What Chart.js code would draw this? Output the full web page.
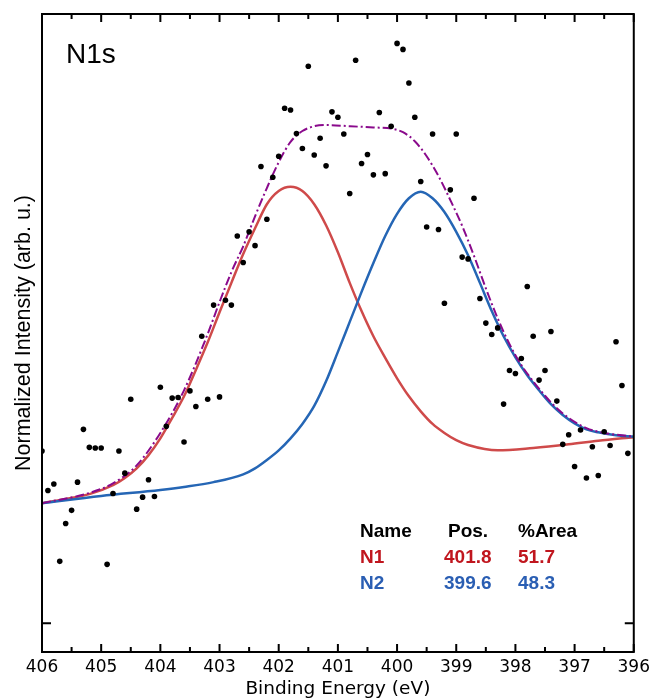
<!DOCTYPE html>
<html>
<head>
<meta charset="utf-8">
<script src="https://cdn.jsdelivr.net/npm/chart.js@4.4.0/dist/chart.umd.min.js"></script>
<style>
    html, body { margin: 0; padding: 0; background: #fff; }
    #wrap { width: 655px; height: 700px; }
</style>
</head>
<body>
<div id="wrap"><canvas id="chart-n1s" width="655" height="700"></canvas></div>
<script>
// N1s XPS spectrum: raw points, two fitted components and the envelope

const dataEnergy = [
    406.0, 405.9, 405.8, 405.7, 405.6, 405.5, 405.4, 405.3, 405.2, 405.1,
    405.0, 404.9, 404.8, 404.7, 404.6, 404.5, 404.4, 404.3, 404.2, 404.1,
    404.0, 403.9, 403.8, 403.7, 403.6, 403.5, 403.4, 403.3, 403.2, 403.1,
    403.0, 402.9, 402.8, 402.7, 402.6, 402.5, 402.4, 402.3, 402.2, 402.1,
    402.0, 401.9, 401.8, 401.7, 401.6, 401.5, 401.4, 401.3, 401.2, 401.1,
    401.0, 400.9, 400.8, 400.7, 400.6, 400.5, 400.4, 400.3, 400.2, 400.1,
    400.0, 399.9, 399.8, 399.7, 399.6, 399.5, 399.4, 399.3, 399.2, 399.1,
    399.0, 398.9, 398.8, 398.7, 398.6, 398.5, 398.4, 398.3, 398.2, 398.1,
    398.0, 397.9, 397.8, 397.7, 397.6, 397.5, 397.4, 397.3, 397.2, 397.1,
    397.0, 396.9, 396.8, 396.7, 396.6, 396.5, 396.4, 396.3, 396.2, 396.1
];
const dataIntensity = [
    0.287, 0.221, 0.232, 0.103, 0.166, 0.188, 0.235, 0.323, 0.293, 0.292,
    0.292, 0.098, 0.216, 0.287, 0.250, 0.373, 0.190, 0.210, 0.239, 0.211,
    0.393, 0.328, 0.375, 0.376, 0.302, 0.387, 0.361, 0.478, 0.373, 0.530,
    0.377, 0.538, 0.530, 0.645, 0.601, 0.652, 0.629, 0.761, 0.673, 0.743,
    0.778, 0.858, 0.855, 0.816, 0.791, 0.928, 0.780, 0.808, 0.762, 0.852,
    0.843, 0.815, 0.716, 0.938, 0.766, 0.781, 0.747, 0.851, 0.749, 0.828,
    0.966, 0.956, 0.900, 0.843, 0.736, 0.660, 0.815, 0.656, 0.533, 0.722,
    0.815, 0.610, 0.607, 0.708, 0.541, 0.500, 0.481, 0.492, 0.365, 0.421,
    0.416, 0.441, 0.561, 0.478, 0.405, 0.421, 0.486, 0.370, 0.298, 0.314,
    0.261, 0.322, 0.242, 0.294, 0.246, 0.319, 0.296, 0.469, 0.396, 0.283
];

const n1Energy = [406.0, 405.6, 405.2, 404.8, 404.6, 404.4, 404.2, 404.0, 403.8, 403.6,
    403.4, 403.2, 403.0, 402.8, 402.6, 402.4, 402.2, 402.0, 401.8, 401.6,
    401.4, 401.2, 401.0, 400.8, 400.6, 400.4, 400.2, 400.0, 399.8, 399.6,
    399.4, 399.2, 399.0, 398.8, 398.3, 397.7, 397.1, 396.6, 396.0];
const n1Fit = [0.200, 0.207, 0.215, 0.230, 0.242, 0.258, 0.280, 0.308, 0.342, 0.378,
    0.422, 0.468, 0.518, 0.567, 0.615, 0.658, 0.698, 0.720, 0.727, 0.720,
    0.698, 0.663, 0.618, 0.567, 0.520, 0.478, 0.442, 0.408, 0.378, 0.353,
    0.332, 0.317, 0.305, 0.297, 0.288, 0.292, 0.298, 0.304, 0.310];

const n2Energy = [406.0, 405.0, 404.0, 403.6, 403.1, 402.6, 402.4, 402.2, 402.0, 401.8,
    401.6, 401.4, 401.2, 401.0, 400.8, 400.6, 400.4, 400.2, 400.0, 399.8,
    399.6, 399.4, 399.2, 399.0, 398.8, 398.6, 398.4, 398.2, 398.0, 397.8,
    397.6, 397.4, 397.2, 397.0, 396.8, 396.6, 396.3, 396.0];
const n2Fit = [0.200, 0.212, 0.222, 0.227, 0.235, 0.248, 0.258, 0.272, 0.288, 0.308,
    0.332, 0.362, 0.403, 0.452, 0.502, 0.552, 0.600, 0.645, 0.682, 0.708,
    0.719, 0.708, 0.685, 0.652, 0.613, 0.567, 0.520, 0.478, 0.443, 0.413,
    0.388, 0.365, 0.347, 0.333, 0.323, 0.318, 0.313, 0.311];

const envEnergy = [406.0, 405.2, 404.8, 404.4, 404.0, 403.6, 403.2, 403.0, 402.8, 402.6,
    402.4, 402.2, 402.0, 401.8, 401.6, 401.4, 401.2, 400.8, 400.4, 400.1,
    399.9, 399.7, 399.5, 399.3, 399.1, 398.9, 398.7, 398.5, 398.3, 398.1,
    397.9, 397.7, 397.5, 397.3, 397.1, 396.8, 396.5, 396.0];
const envFit = [0.200, 0.217, 0.233, 0.263, 0.317, 0.388, 0.482, 0.535, 0.585, 0.628,
    0.678, 0.725, 0.768, 0.802, 0.820, 0.828, 0.830, 0.828, 0.826, 0.824,
    0.818, 0.803, 0.778, 0.745, 0.705, 0.662, 0.612, 0.558, 0.508, 0.465,
    0.430, 0.403, 0.379, 0.358, 0.342, 0.325, 0.317, 0.311];

const fitNames = ["N1", "N2"];
const fitPos = ["401.8", "399.6"];
const fitArea = ["51.7", "48.3"];
const fitColors = ["#c0161e", "#2a5eb3"];

function pairs(xs, ys) {
    return xs.map((v, i) => ({ x: v, y: ys[i] }));
}

// frame with inward ticks on all four sides
const frameTicks = {
    id: 'frameTicks',
    afterDatasetsDraw(chart) {
        const { ctx, chartArea: a, scales: { x, y } } = chart;
        ctx.save();
        ctx.strokeStyle = '#000';
        ctx.lineWidth = 2;
        ctx.beginPath();
        const ticks = x.ticks;
        for (let i = 0; i < ticks.length; i++) {
            const px = x.getPixelForValue(ticks[i].value);
            ctx.moveTo(px, a.bottom); ctx.lineTo(px, a.bottom - 8);
            ctx.moveTo(px, a.top); ctx.lineTo(px, a.top + 8);
            if (i < ticks.length - 1) {
                const pm = x.getPixelForValue((ticks[i].value + ticks[i + 1].value) / 2);
                ctx.moveTo(pm, a.bottom); ctx.lineTo(pm, a.bottom - 5);
                ctx.moveTo(pm, a.top); ctx.lineTo(pm, a.top + 5);
            }
        }
        const py = y.getPixelForValue(0);
        ctx.moveTo(a.left, py); ctx.lineTo(a.left + 9, py);
        ctx.moveTo(a.right, py); ctx.lineTo(a.right - 9, py);
        ctx.stroke();
        ctx.strokeRect(a.left, a.top, a.right - a.left, a.bottom - a.top);
        ctx.restore();
    },
    afterDraw(chart) {
        const { ctx, chartArea: a } = chart;
        ctx.save();
        ctx.textBaseline = 'alphabetic';
        ctx.fillStyle = '#000';
        ctx.font = '28px "Liberation Sans", Arial, sans-serif';
        ctx.fillText('N1s', a.left + 24, a.top + 49);

        // fit summary table
        const cols = [a.left + 318, a.left + 402, a.left + 476];
        ctx.font = 'bold 19px "Liberation Sans", Arial, sans-serif';
        ctx.fillText('Name', cols[0], 537);
        ctx.fillText('Pos.', cols[1] + 4, 537);
        ctx.fillText('%Area', cols[2], 537);
        fitNames.forEach((n, i) => {
            const by = 563 + i * 25.5;
            ctx.fillStyle = fitColors[i];
            ctx.fillText(n, cols[0], by);
            ctx.fillText(fitPos[i], cols[1], by);
            ctx.fillText(fitArea[i], cols[2], by);
        });
        ctx.restore();
    }
};

const lineStyle = {
    type: 'line', pointRadius: 0, borderWidth: 2.5, fill: false,
    cubicInterpolationMode: 'monotone'
};

new Chart(document.getElementById('chart-n1s').getContext('2d'), {
    type: 'scatter',
    data: {
        datasets: [
            {
                label: 'data', data: pairs(dataEnergy, dataIntensity),
                pointRadius: 2.8, pointBackgroundColor: '#000', pointBorderWidth: 0,
                showLine: false, order: 0
            },
            Object.assign({ label: 'N1', data: pairs(n1Energy, n1Fit), borderColor: '#cf4a4a', order: 3 }, lineStyle),
            Object.assign({ label: 'N2', data: pairs(n2Energy, n2Fit), borderColor: '#2566b5', order: 2 }, lineStyle),
            Object.assign({
                label: 'envelope', data: pairs(envEnergy, envFit), borderColor: '#8a0a8c',
                borderDash: [9, 3, 2, 3], order: 1
            }, lineStyle, { borderWidth: 2 })
        ]
    },
    options: {
        responsive: false,
        animation: false,
        devicePixelRatio: 1,
        layout: { padding: { top: 14, right: 18, left: 0, bottom: 0 } },
        plugins: {
            legend: { display: false },
            tooltip: { enabled: false }
        },
        scales: {
            x: {
                type: 'linear', position: 'bottom', reverse: true,
                min: 396, max: 406,
                grid: { display: false, drawTicks: false },
                border: { display: false },
                ticks: {
                    stepSize: 1, autoSkip: false, maxRotation: 0, padding: 5,
                    color: '#000', font: { family: 'DejaVu Sans', size: 17 }
                },
                title: {
                    display: true, text: 'Binding Energy (eV)', color: '#000',
                    font: { family: 'DejaVu Sans', size: 18.5 }, padding: { top: 1, bottom: 0 }
                },
                afterFit: s => { s.height = 48; }
            },
            y: {
                type: 'linear', position: 'left',
                min: -0.048, max: 1.015,
                grid: { display: false, drawTicks: false },
                border: { display: false },
                ticks: { display: false },
                title: {
                    display: true, text: 'Normalized Intensity (arb. u.)', color: '#000',
                    font: { family: 'Liberation Sans', size: 21.5 }, padding: { top: 11, bottom: 0 }
                },
                afterFit: s => { s.width = 42; }
            }
        }
    },
    plugins: [frameTicks]
});
</script>
</body>
</html>
